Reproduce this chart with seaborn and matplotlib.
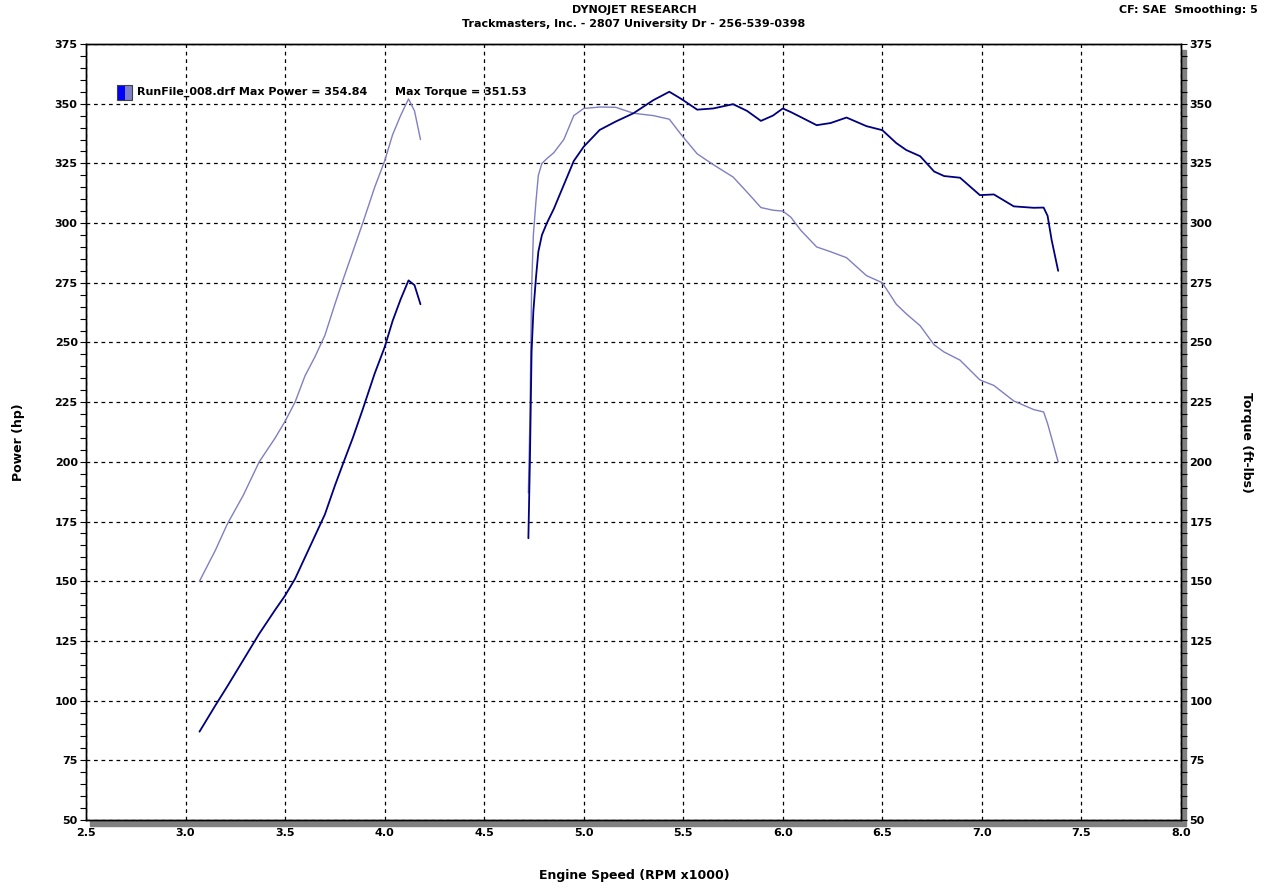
import numpy as np
import pandas as pd
import matplotlib
matplotlib.use("Agg")
import matplotlib.pyplot as plt
from matplotlib.ticker import MultipleLocator, FormatStrFormatter
from matplotlib.patches import Rectangle
import seaborn as sns

# first pull (low gear section)
rpm_lo = [3.07, 3.15, 3.21, 3.29, 3.37, 3.45, 3.50, 3.55, 3.60, 3.65, 3.70, 3.75,
          3.79, 3.84, 3.89, 3.95, 4.00, 4.04, 4.08, 4.12, 4.15, 4.18]
power_lo = [87, 98, 106, 117, 128, 138, 144, 151, 160, 169, 178, 190,
            199, 210, 222, 237, 248, 259, 268, 276, 274, 266]
torque_lo = [150, 163, 174, 186, 200, 210, 217, 225, 236, 244, 253, 266,
             276, 288, 300, 315, 326, 337, 345, 352, 347, 335]

# second pull
rpm_hi = [4.722, 4.730, 4.738, 4.747, 4.760, 4.772, 4.790, 4.815, 4.850, 4.900,
          4.950, 5.000, 5.080, 5.160, 5.250, 5.350, 5.430, 5.490, 5.570, 5.650,
          5.750, 5.820, 5.890, 5.950, 6.000, 6.040, 6.090, 6.170, 6.240, 6.320,
          6.420, 6.500, 6.570, 6.620, 6.690, 6.760, 6.810, 6.890, 6.990, 7.060,
          7.160, 7.260, 7.310, 7.330, 7.350, 7.383]
power_hi = [168, 202, 246, 263, 277, 288, 295, 300, 306, 316,
            326, 332, 339, 342.5, 346, 351.5, 355, 352, 347.5, 348,
            349.8, 347, 342.8, 345, 348, 346.5, 344.4, 341, 341.9, 344.2,
            340.6, 338.9, 333.5, 330.6, 328, 321.6, 319.7, 319, 311.7, 312,
            307, 306.4, 306.5, 303, 293, 280]
torque_hi = [187, 219, 272, 295, 309, 320, 325, 327, 329.5, 335,
             345, 348, 348.6, 348.5, 346, 345, 343.5, 337, 329, 324.5,
             319.3, 313, 306.5, 305.4, 305, 302.5, 297, 290, 288, 285.5,
             278, 275, 266, 262, 257, 249, 246, 242.6, 234.3, 232,
             225.5, 221.9, 220.9, 216, 210, 200]

frames = []
for seg, rpm, pw, tq in [("lo", rpm_lo, power_lo, torque_lo), ("hi", rpm_hi, power_hi, torque_hi)]:
    frames.append(pd.DataFrame({"rpm": rpm, "value": pw, "measure": "Power", "seg": seg}))
    frames.append(pd.DataFrame({"rpm": rpm, "value": tq, "measure": "Torque", "seg": seg}))
df = pd.concat(frames, ignore_index=True)

sns.set_style("white")
plt.rcParams["font.family"] = ["DejaVu Sans"]
plt.rcParams["text.color"] = "black"

fig = plt.figure(figsize=(12.71, 8.93), dpi=100)
ax = fig.add_axes([86 / 1271, 73 / 893, 1095 / 1271, 776 / 893])

# gray shadow on the bottom and right sides of the frame
fig.patches.append(Rectangle((90 / 1271, 67 / 893), 1096 / 1271, 776 / 893,
                             transform=fig.transFigure, color="#808080", zorder=-1))

sns.lineplot(data=df[df.measure == "Torque"], x="rpm", y="value", units="seg",
             estimator=None, sort=False, color="#7f7fc4", linewidth=1.0, ax=ax)
sns.lineplot(data=df[df.measure == "Power"], x="rpm", y="value", units="seg",
             estimator=None, sort=False, color="#000080", linewidth=1.3, ax=ax)

ax.set_xlim(2.5, 8.0)
ax.set_ylim(50, 375)
ax.xaxis.set_major_locator(MultipleLocator(0.5))
ax.xaxis.set_minor_locator(MultipleLocator(0.1))
ax.yaxis.set_major_locator(MultipleLocator(25))
ax.yaxis.set_minor_locator(MultipleLocator(5))
ax.xaxis.set_major_formatter(FormatStrFormatter("%.1f"))
ax.grid(True, which="major", color="black", linestyle=(0, (3, 3)), linewidth=0.9)
ax.set_axisbelow(True)
for s in ax.spines.values():
    s.set_color("black")
    s.set_linewidth(1.0)

tick_kw = dict(labelsize=8, colors="black", direction="out", length=4, width=0.8, pad=2)
ax.tick_params(axis="both", which="major", **tick_kw)
ax.tick_params(axis="both", which="minor", direction="out", length=4, width=0.8, colors="black")
for lab in ax.get_xticklabels() + ax.get_yticklabels():
    lab.set_fontweight("bold")

ax2 = ax.twinx()
ax2.set_ylim(50, 375)
ax2.yaxis.set_major_locator(MultipleLocator(25))
ax2.yaxis.set_minor_locator(MultipleLocator(5))
ax2.tick_params(axis="y", which="major", **tick_kw)
ax2.tick_params(axis="y", which="minor", direction="out", length=4, width=0.8, colors="black")
for lab in ax2.get_yticklabels():
    lab.set_fontweight("bold")
for s in ax2.spines.values():
    s.set_color("black")
    s.set_linewidth(1.0)

ax.set_xlabel("")
ax.set_ylabel("")
fig.text(634 / 1271, 1 - 876 / 893, "Engine Speed (RPM x1000)", ha="center", va="center",
         fontsize=9, fontweight="bold", color="black")
fig.text(19 / 1271, 1 - 442 / 893, "Power (hp)", ha="center", va="center",
         rotation=90, fontsize=9, fontweight="bold", color="black")
fig.text(1247 / 1271, 1 - 442 / 893, "Torque (ft-lbs)", ha="center", va="center",
         rotation=270, fontsize=9, fontweight="bold", color="black")

fig.text(634 / 1271, 1 - 10 / 893, "DYNOJET RESEARCH", ha="center", va="center",
         fontsize=8, fontweight="bold", color="black")
fig.text(634 / 1271, 1 - 24 / 893, "Trackmasters, Inc. - 2807 University Dr - 256-539-0398",
         ha="center", va="center", fontsize=8, fontweight="bold", color="black")
fig.text(1258 / 1271, 1 - 10 / 893, "CF: SAE  Smoothing: 5", ha="right", va="center",
         fontsize=8, fontweight="bold", color="black")

# legend box + run summary
ax.add_patch(Rectangle((31 / 1095, (820 - 100) / 776), 8 / 1095, 15 / 776,
                       transform=ax.transAxes, facecolor="#0000ff", edgecolor="none", zorder=5))
ax.add_patch(Rectangle((39 / 1095, (820 - 100) / 776), 7 / 1095, 15 / 776,
                       transform=ax.transAxes, facecolor="#8080c8", edgecolor="none", zorder=5))
ax.add_patch(Rectangle((31 / 1095, (820 - 100) / 776), 15 / 1095, 15 / 776,
                       transform=ax.transAxes, facecolor="none", edgecolor="#404040",
                       linewidth=0.8, zorder=6))
ax.text(51 / 1095, (820 - 92) / 776, "RunFile_008.drf Max Power = 354.84",
        transform=ax.transAxes, ha="left", va="center", fontsize=8, fontweight="bold", color="black")
ax.text(309 / 1095, (820 - 92) / 776, "Max Torque = 351.53",
        transform=ax.transAxes, ha="left", va="center", fontsize=8, fontweight="bold", color="black")

fig.savefig("out.png", dpi=100, facecolor="white")
